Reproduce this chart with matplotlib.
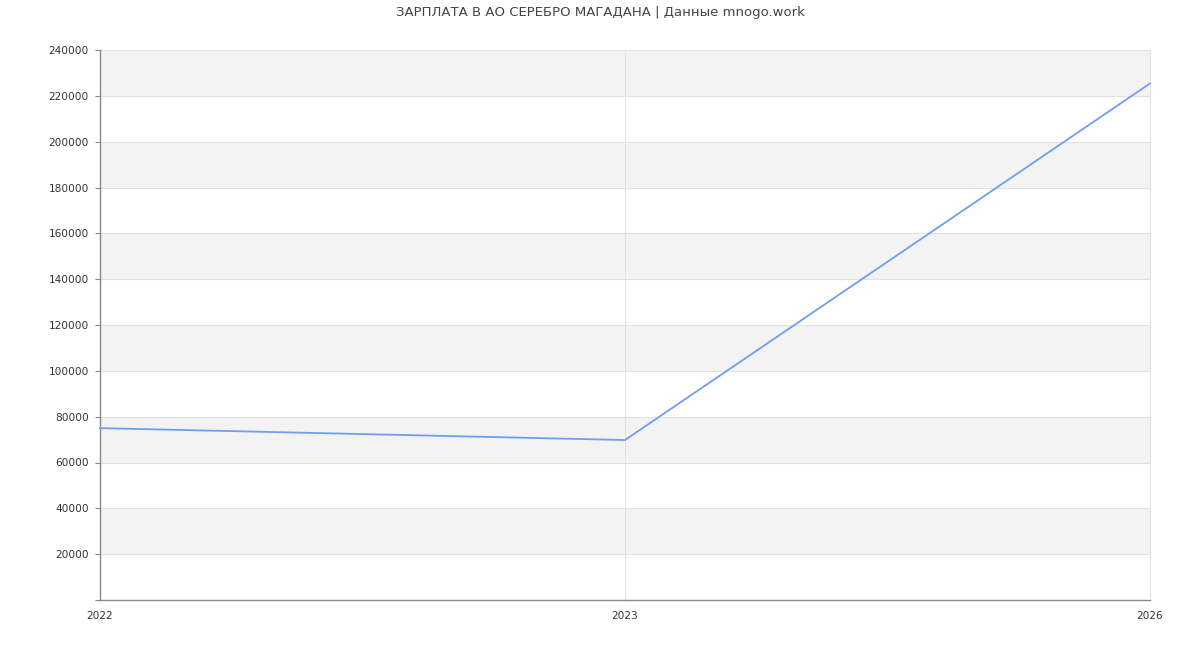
import matplotlib
matplotlib.use("Agg")
import matplotlib.pyplot as plt

years = ["2022", "2023", "2026"]
salaries = [75000, 69800, 225400]
y_ticks = [20000, 40000, 60000, 80000, 100000, 120000, 140000, 160000, 180000, 200000, 220000, 240000]
title = "ЗАРПЛАТА В АО СЕРЕБРО МАГАДАНА | Данные mnogo.work"

plt.rcParams['font.family'] = ['DejaVu Sans']

fig = plt.figure(figsize=(12, 6.5), dpi=100)
ax = fig.add_axes([100/1200, 50/650, 1050/1200, 550/650])

xs = list(range(len(years)))
ax.set_xlim(0, len(years) - 1)
ax.set_ylim(0, 240000)

# alternating bands
for lo in range(20000, 240000, 40000):
    ax.axhspan(lo, lo + 20000, color='#f3f3f3', zorder=0, lw=0)
for t in y_ticks:
    ax.axhline(t, color='#e2e2e2', lw=0.8, zorder=1)
for x in xs[1:]:
    ax.axvline(x, color='#e2e2e2', lw=0.8, zorder=1, clip_on=False)

ax.plot(xs, salaries, color='#6f9ef0', lw=1.3, zorder=3, clip_on=False)

ax.set_yticks([0] + y_ticks)
ax.set_yticklabels([""] + [str(t) for t in y_ticks])
ax.set_xticks(xs)
ax.set_xticklabels(years)

ax.tick_params(axis='y', length=3.6, color='#888888', labelsize=7.6, labelcolor='#333333', pad=4.4)
ax.tick_params(axis='x', length=0, labelsize=7.6, labelcolor='#333333', pad=8)

for s in ['top', 'right']:
    ax.spines[s].set_visible(False)
for s in ['left', 'bottom']:
    ax.spines[s].set_color('#888888')
    ax.spines[s].set_linewidth(1)

fig.text(0.5, 1 - 12.5/650, title, ha='center', va='center', fontsize=9.5, color='#444444')

fig.savefig("out.png", dpi=100)
